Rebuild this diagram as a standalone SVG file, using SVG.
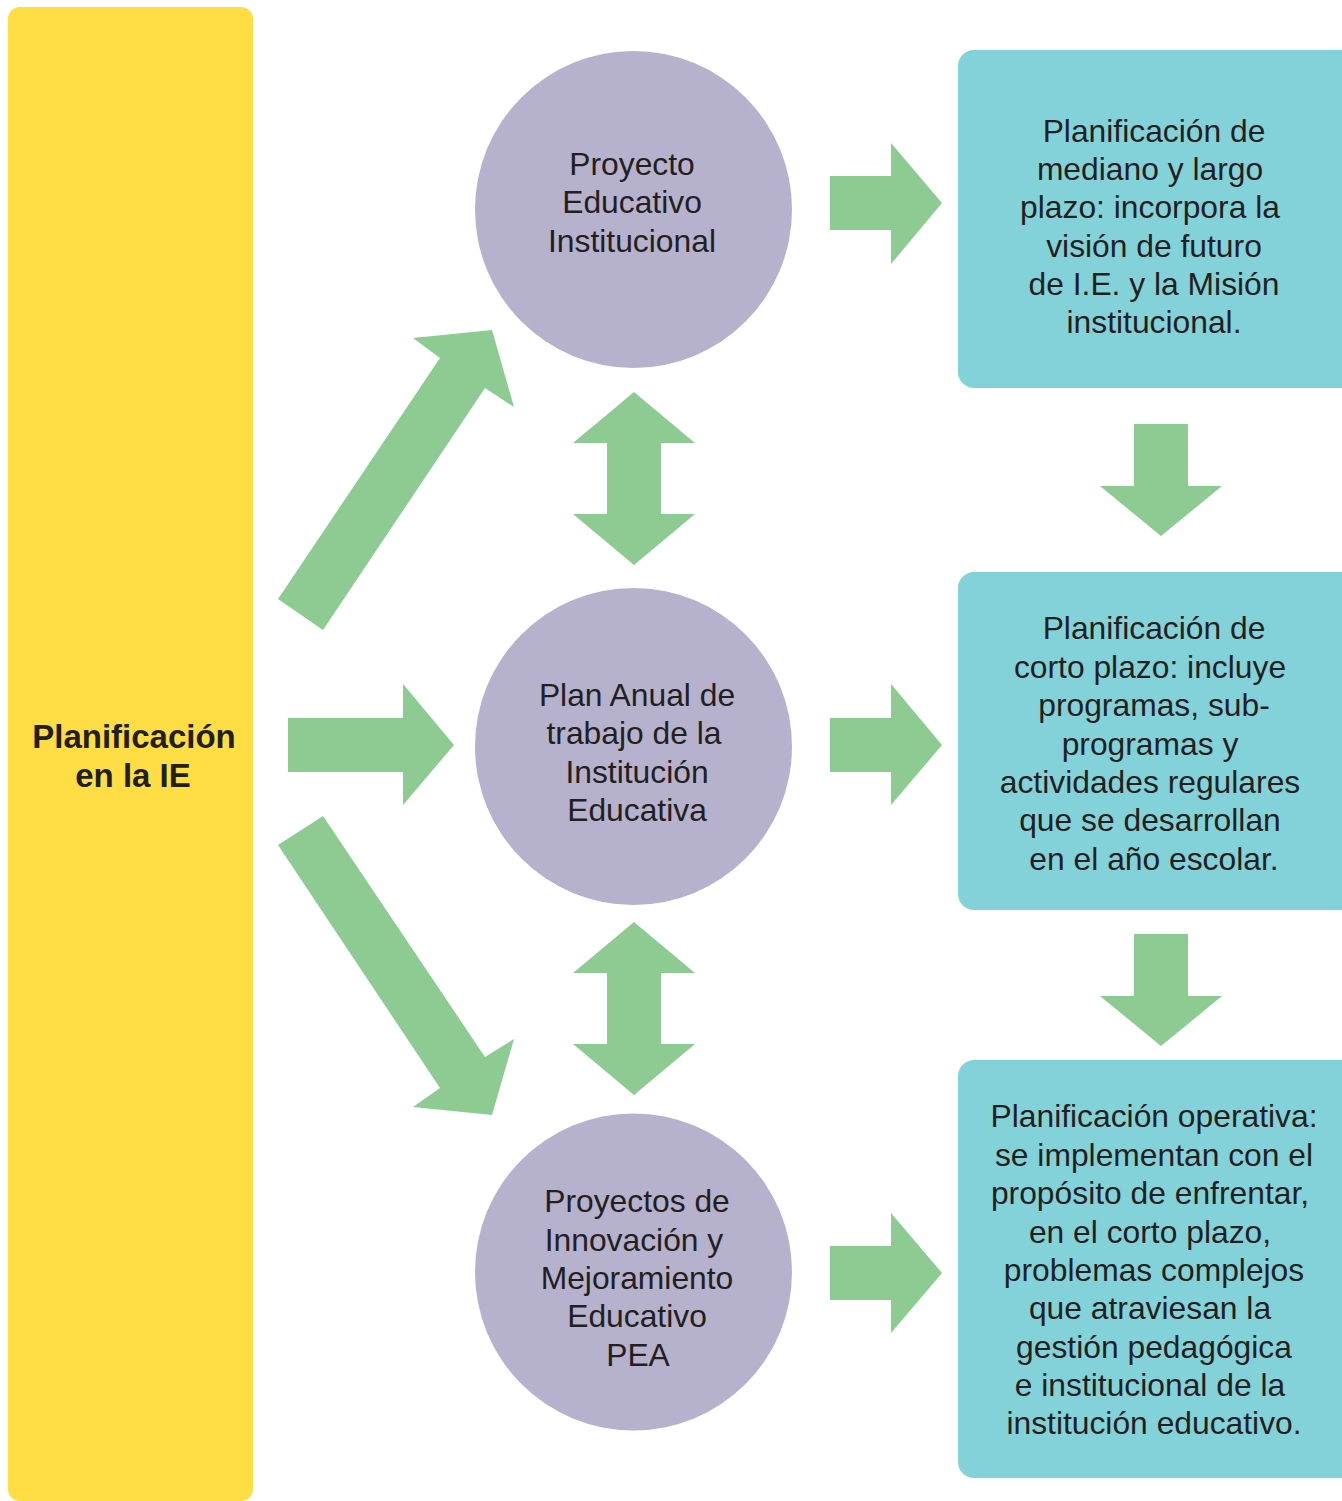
<svg xmlns="http://www.w3.org/2000/svg" width="1342" height="1501" viewBox="0 0 1342 1501">
  <style>
    text { font-family: "Liberation Sans", Arial, sans-serif; font-size: 31.8px; fill: #231F20; text-anchor: middle; }
    .bold { font-weight: bold; font-size: 33px; }
    .circle { fill: #B6B1CD; }
    .box { fill: #84D2D9; }
    .arrow { fill: #8DCB93; }
  </style>
  <rect width="1342" height="1501" fill="#FFFFFF"/>

  <!-- main label bar -->
  <g id="planificacion-ie">
    <rect x="8" y="7" width="245" height="1494" rx="12" fill="#FEDD45"/>
    <text class="bold" x="134" y="748">Planificación</text>
    <text class="bold" x="133" y="787">en la IE</text>
  </g>

  <!-- planning instruments -->
  <g id="pei">
    <circle class="circle" cx="633.5" cy="209.5" r="158.5"/>
    <text x="632" y="175">Proyecto</text>
    <text x="632" y="213">Educativo</text>
    <text x="632" y="252">Institucional</text>
  </g>
  <g id="pat">
    <circle class="circle" cx="633.5" cy="746.5" r="158.5"/>
    <text x="637" y="706">Plan Anual de</text>
    <text x="634" y="744">trabajo de la</text>
    <text x="637" y="783">Institución</text>
    <text x="637" y="821">Educativa</text>
  </g>
  <g id="pea">
    <circle class="circle" cx="633.5" cy="1272" r="158.5"/>
    <text x="637" y="1212">Proyectos de</text>
    <text x="634" y="1251">Innovación y</text>
    <text x="637" y="1289">Mejoramiento</text>
    <text x="637" y="1327">Educativo</text>
    <text x="638" y="1366">PEA</text>
  </g>

  <!-- descriptions -->
  <g id="mediano-largo-plazo">
    <rect class="box" x="958" y="50" width="400" height="338" rx="16"/>
    <text x="1154" y="142">Planificación de</text>
    <text x="1150" y="180">mediano y largo</text>
    <text x="1150" y="218">plazo: incorpora la</text>
    <text x="1154" y="257">visión de futuro</text>
    <text x="1154" y="295">de I.E. y la Misión</text>
    <text x="1154" y="333">institucional.</text>
  </g>
  <g id="corto-plazo">
    <rect class="box" x="958" y="572" width="400" height="338" rx="16"/>
    <text x="1154" y="639">Planificación de</text>
    <text x="1150" y="678">corto plazo: incluye</text>
    <text x="1154" y="716">programas, sub-</text>
    <text x="1150" y="755">programas y</text>
    <text x="1150" y="793">actividades regulares</text>
    <text x="1150" y="831">que se desarrollan</text>
    <text x="1154" y="870">en el año escolar.</text>
  </g>
  <g id="operativa">
    <rect class="box" x="958" y="1060" width="400" height="418" rx="16"/>
    <text x="1154" y="1127">Planificación operativa:</text>
    <text x="1154" y="1166">se implementan con el</text>
    <text x="1150" y="1204">propósito de enfrentar,</text>
    <text x="1150" y="1243">en el corto plazo,</text>
    <text x="1154" y="1281">problemas complejos</text>
    <text x="1150" y="1319">que atraviesan la</text>
    <text x="1154" y="1358">gestión pedagógica</text>
    <text x="1150" y="1396">e institucional de la</text>
    <text x="1154" y="1434">institución educativo.</text>
  </g>

  <!-- connectors -->
  <g id="connectors">
    <polygon class="arrow" points="278,599 440,358 413,338 492,330 514,407 485,388 323,630"/>
    <polygon class="arrow" points="288,718 403,718 403,684 454,745 403,805 403,772 288,772"/>
    <polygon class="arrow" points="278,845 323,816 485,1057 514,1039 492,1115 413,1107 440,1088"/>

    <polygon class="arrow" points="634,392 695,443 661,443 661,514 695,514 634,565 573,514 607,514 607,443 573,443"/>
    <polygon class="arrow" points="634,922 695,973 661,973 661,1044 695,1044 634,1095 573,1044 607,1044 607,973 573,973"/>

    <polygon class="arrow" points="830,176 891,176 891,143 942,203 891,264 891,230 830,230"/>
    <polygon class="arrow" points="830,718 891,718 891,684 942,745 891,805 891,772 830,772"/>
    <polygon class="arrow" points="830,1246 891,1246 891,1213 942,1273 891,1333 891,1300 830,1300"/>

    <polygon class="arrow" points="1134,424 1188,424 1188,486 1222,486 1161,536 1100,486 1134,486"/>
    <polygon class="arrow" points="1134,934 1188,934 1188,996 1222,996 1161,1046 1100,996 1134,996"/>
  </g>
</svg>
